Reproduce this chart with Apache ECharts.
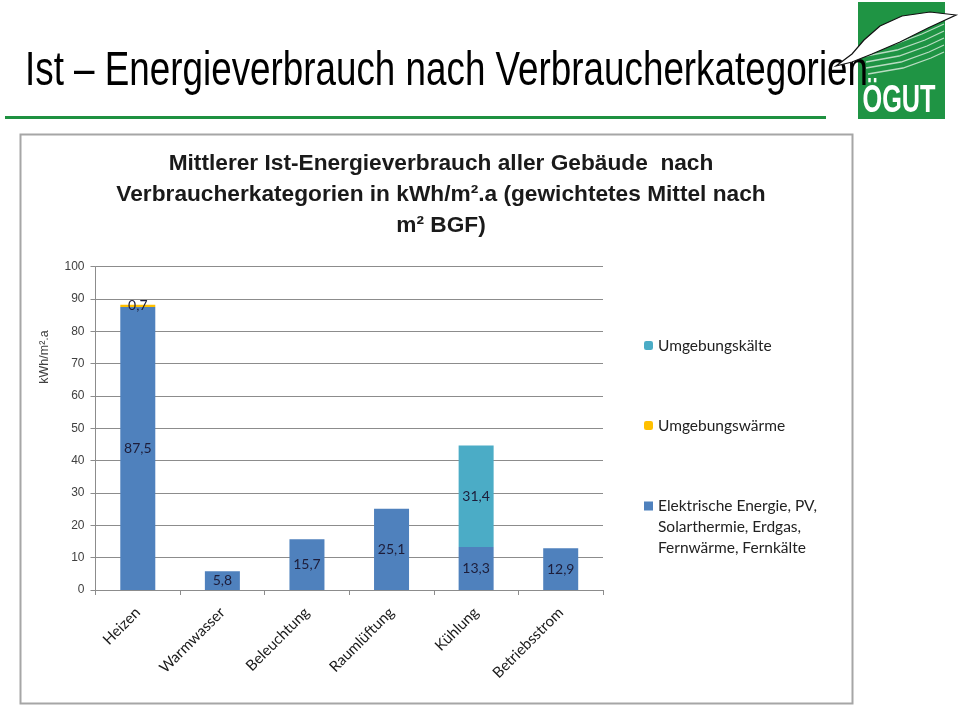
<!DOCTYPE html>
<html>
<head>
<meta charset="utf-8">
<script src="https://cdn.jsdelivr.net/npm/echarts@6/dist/echarts.min.js"></script>
<style>
html,body{margin:0;padding:0;background:#fff;}
#main{width:960px;height:705px;}
</style>
</head>
<body>
<div id="main"></div>
<script>
const categories = ['Heizen', 'Warmwasser', 'Beleuchtung', 'Raumlüftung', 'Kühlung', 'Betriebsstrom'];
const elektrisch = [87.5, 5.8, 15.7, 25.1, 13.3, 12.9];
const umgebungswaerme = [0.7, null, null, null, null, null];
const umgebungskaelte = [null, null, null, null, 31.4, null];
const yTicks = [0, 10, 20, 30, 40, 50, 60, 70, 80, 90, 100];
const nameElektrisch = 'Elektrische Energie, PV,\nSolarthermie, Erdgas,\nFernwärme, Fernkälte';
const nameWaerme = 'Umgebungswärme';
const nameKaelte = 'Umgebungskälte';
const slideTitle = 'Ist – Energieverbrauch nach Verbraucherkategorien';
const chartTitle = 'Mittlerer Ist-Energieverbrauch aller Gebäude  nach\nVerbraucherkategorien in kWh/m².a (gewichtetes Mittel nach\nm² BGF)';
const yName = 'kWh/m².a';

function fitScale(text, font, target) {
  const c = document.createElement('canvas').getContext('2d');
  c.font = font;
  return target / c.measureText(text).width;
}

const headFont = '49px "Liberation Sans", Arial, sans-serif';
const headScale = fitScale(slideTitle, headFont, 843);
const logoFont = 'bold 39px "Liberation Sans", Arial, sans-serif';
const logoScale = fitScale('ÖGUT', logoFont, 73);

const chart = echarts.init(document.getElementById('main'), null, {renderer: 'canvas'});
const fmt = p => (p.value == null || p.value === 0) ? '' : String(p.value).replace('.', ',');
const labelStyle = {show: true, position: 'inside', formatter: fmt, color: '#1d1d3a', fontFamily: 'Lato, "Open Sans", sans-serif', fontSize: 14};
const legendText = {fontFamily: 'Lato, "Open Sans", sans-serif', fontSize: 15.5, color: '#222', lineHeight: 21};
// square icon drawn at the top of a taller box so it aligns with the first text line
const topSquareIcon = 'path://M0,0L9,0L9,9L0,9Z M0,51L0.01,51';

chart.setOption({
  animation: false,
  backgroundColor: '#fff',
  title: {
    text: chartTitle,
    left: 436, top: 143, textAlign: 'center',
    textStyle: {fontFamily: '"Liberation Sans", sans-serif', fontWeight: 'bold', fontSize: 22.7, lineHeight: 31, color: '#1a1a1a'}
  },
  legend: [
    {data: [nameKaelte], orient: 'vertical', left: 639, top: 330, itemWidth: 9, itemHeight: 9, itemGap: 0, textStyle: legendText, selectedMode: false},
    {data: [nameWaerme], orient: 'vertical', left: 639, top: 410, itemWidth: 9, itemHeight: 9, itemGap: 0, textStyle: legendText, selectedMode: false},
    {data: [{name: nameElektrisch, icon: topSquareIcon}], orient: 'vertical', left: 639, top: 490.5, itemWidth: 9, itemHeight: 51, itemGap: 0, textStyle: legendText, selectedMode: false}
  ],
  grid: {left: 95.5, top: 266.7, width: 507.5, height: 323.3, containLabel: false},
  xAxis: {
    type: 'category', data: categories,
    axisLine: {lineStyle: {color: '#8c8c8c', width: 1}},
    axisTick: {show: true, length: 5, lineStyle: {color: '#8c8c8c'}},
    axisLabel: {rotate: 45, margin: 20, fontFamily: 'Lato, "Open Sans", sans-serif', fontSize: 15, color: '#1a1a1a', interval: 0}
  },
  yAxis: {
    type: 'value', min: 0, max: 100, interval: 10,
    axisLine: {show: true, lineStyle: {color: '#8c8c8c'}},
    axisTick: {show: true, length: 5, lineStyle: {color: '#8c8c8c'}},
    splitLine: {lineStyle: {color: '#8c8c8c', width: 1}},
    axisLabel: {margin: 11, fontFamily: '"Liberation Sans", sans-serif', fontSize: 12, color: '#404040',
      formatter: v => yTicks.includes(v) ? String(v) : ''}
  },
  series: [
    {name: nameElektrisch, type: 'bar', stack: 'a', data: elektrisch, barWidth: 35, itemStyle: {color: '#4f81bd'}, label: labelStyle},
    {name: nameWaerme, type: 'bar', stack: 'a', data: umgebungswaerme, barWidth: 35, itemStyle: {color: '#ffc000'}, label: labelStyle},
    {name: nameKaelte, type: 'bar', stack: 'a', data: umgebungskaelte, barWidth: 35, itemStyle: {color: '#4bacc6'}, label: labelStyle}
  ],
  graphic: [
    {type: 'text', x: 25, y: 71, scaleX: headScale, style: {text: slideTitle, font: headFont, fill: '#000', verticalAlign: 'middle'}, z: 10},
    {type: 'rect', shape: {x: 5, y: 116, width: 821, height: 3}, style: {fill: '#1e9140'}},
    {type: 'rect', shape: {x: 20.5, y: 134.5, width: 832, height: 569}, style: {fill: 'none', stroke: '#a6a6a6', lineWidth: 2}, z: -1},
    {type: 'text', x: 45, y: 357, rotation: Math.PI / 2, style: {text: yName, font: '12.5px "Liberation Sans", sans-serif', fill: '#404040', align: 'center', verticalAlign: 'middle'}},
    {type: 'rect', shape: {x: 858, y: 2, width: 87, height: 117}, style: {fill: '#1f9444'}, z: 5},
    {type: 'polyline', shape: {points: [[866, 50], [895, 44], [922, 34], [944, 24]]}, style: {stroke: '#b9dcc2', lineWidth: 1.3, fill: 'none'}, z: 11},
    {type: 'polyline', shape: {points: [[866, 56], [897, 50], [925, 40], [944, 31]]}, style: {stroke: '#b9dcc2', lineWidth: 1.3, fill: 'none'}, z: 11},
    {type: 'polyline', shape: {points: [[866, 62], [899, 56], [927, 46], [944, 38]]}, style: {stroke: '#b9dcc2', lineWidth: 1.3, fill: 'none'}, z: 11},
    {type: 'polyline', shape: {points: [[866, 68], [901, 62], [929, 52], [944, 45]]}, style: {stroke: '#b9dcc2', lineWidth: 1.3, fill: 'none'}, z: 11},
    {type: 'polyline', shape: {points: [[868, 74], [903, 68], [931, 58], [944, 52]]}, style: {stroke: '#b9dcc2', lineWidth: 1.3, fill: 'none'}, z: 11},
    {type: 'polygon', shape: {points: [[836, 66], [852, 62], [872, 54], [900, 42], [928, 28], [956, 15], [930, 12], [902, 16], [880, 26], [864, 40], [852, 54]]}, style: {fill: '#fff', stroke: '#111', lineWidth: 1.2}, z: 12},
    {type: 'text', x: 899, y: 101, scaleX: logoScale, style: {text: 'ÖGUT', font: logoFont, fill: '#fff', align: 'center', verticalAlign: 'middle'}, z: 13}
  ]
});
</script>
</body>
</html>
